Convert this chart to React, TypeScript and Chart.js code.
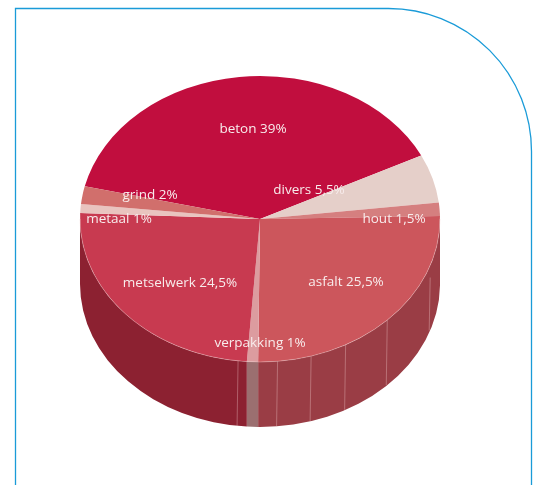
import { useEffect, useRef } from "react";
import { Chart, registerables } from "chart.js";

Chart.register(...registerables);

// Waste streams, clockwise from the top-left edge of the largest slice
const categories = ["beton", "divers", "hout", "asfalt", "verpakking", "metselwerk", "metaal", "grind"];
const shares = [39, 5.5, 1.5, 25.5, 1, 24.5, 1, 2];
const shareLabels = ["39%", "5,5%", "1,5%", "25,5%", "1%", "24,5%", "1%", "2%"];
const topColors = ["#c10e3e", "#e5cfc9", "#d57f7f", "#cc565c", "#dc9c9f", "#c83a50", "#e9c4bf", "#d16f6c"];
const sideColors = ["#8c2030", "#b9a09c", "#a85f60", "#9a3d45", "#9b6f70", "#8c2131", "#b0908c", "#a05050"];

// Where each caption sits, relative to the centre of the disc
const labelOffsets = [
  [-7, -90], [49, -29], [134, 0], [86, 63], [0, 124], [-80, 64], [-141, 0], [-110, -24],
];

// Facet seams on the rim: degrees clockwise from the right-hand side, and how far below the top edge each begins
const seamAngles = [19, 45, 61.6, 73.5, 84.4, 97];
const seamInsets = [12, 0, 0, 0, 0, 0];

const SQUASH = 143 / 180;
const DEPTH = 65;
const FIRST_SLICE_ROTATION = -76.8;

const disc3d = {
  id: "disc3d",
  beforeDraw(chart: any) {
    // Rounded blue frame, open at the bottom
    const { ctx, height } = chart;
    ctx.save();
    ctx.strokeStyle = "#1a9bd8";
    ctx.lineWidth = 1.3;
    ctx.beginPath();
    ctx.moveTo(15.5, height);
    ctx.lineTo(15.5, 8.5);
    ctx.lineTo(388, 8.5);
    ctx.arcTo(531.5, 8.5, 531.5, 152, 143);
    ctx.lineTo(531.5, height);
    ctx.stroke();
    ctx.restore();
  },
  beforeDatasetsDraw(chart: any) {
    const { ctx } = chart;
    const arcs = chart.getDatasetMeta(0).data;
    const cx = arcs[0].x;
    const cy = arcs[0].y;
    const r = arcs[0].outerRadius;
    ctx.save();
    arcs.forEach((arc: any, i: number) => {
      const a0 = Math.max(arc.startAngle, 0);
      const a1 = Math.min(arc.endAngle, Math.PI);
      if (a1 <= a0) return;
      ctx.beginPath();
      ctx.ellipse(cx, cy, r, r * SQUASH, 0, a0, a1);
      ctx.ellipse(cx, cy + DEPTH, r, r * SQUASH, 0, a1, a0, true);
      ctx.closePath();
      ctx.fillStyle = sideColors[i];
      ctx.fill();
    });
    ctx.strokeStyle = "rgba(240,205,205,0.45)";
    ctx.lineWidth = 0.8;
    seamAngles.forEach((deg, i) => {
      const a = (deg * Math.PI) / 180;
      const x = cx + r * Math.cos(a);
      const y = cy + r * SQUASH * Math.sin(a);
      ctx.beginPath();
      ctx.moveTo(x, y + seamInsets[i]);
      ctx.lineTo(x - 1, y + DEPTH);
      ctx.stroke();
    });
    ctx.restore();
    // The slices themselves are laid flat by squashing the drawing context
    ctx.save();
    ctx.translate(cx, cy);
    ctx.scale(1, SQUASH);
    ctx.translate(-cx, -cy);
  },
  afterDatasetsDraw(chart: any) {
    const { ctx } = chart;
    ctx.restore();
    const arcs = chart.getDatasetMeta(0).data;
    const cx = arcs[0].x;
    const cy = arcs[0].y;
    const r = arcs[0].outerRadius;
    ctx.save();
    // Pale rim highlight along the front edge
    ctx.strokeStyle = "rgba(245,210,210,0.45)";
    ctx.lineWidth = 0.8;
    ctx.beginPath();
    ctx.ellipse(cx, cy, r, r * SQUASH, 0, 0, Math.PI);
    ctx.stroke();
    ctx.fillStyle = "#f8ecec";
    ctx.font = '13.5px "Open Sans"';
    ctx.textAlign = "center";
    ctx.textBaseline = "middle";
    categories.forEach((name, i) => {
      const [dx, dy] = labelOffsets[i];
      ctx.fillText(`${name} ${shareLabels[i]}`, cx + dx, cy + dy);
    });
    ctx.restore();
  },
};

export default function App() {
  const canvasRef = useRef<HTMLCanvasElement>(null);

  useEffect(() => {
    const chart = new Chart(canvasRef.current!, {
      type: "pie",
      data: {
        labels: categories,
        datasets: [{ data: shares, backgroundColor: topColors, borderWidth: 0 }],
      },
      options: {
        animation: false,
        responsive: false,
        rotation: FIRST_SLICE_ROTATION,
        layout: { padding: { left: 80, right: 99, top: 39, bottom: 86 } },
        plugins: { legend: { display: false }, tooltip: { enabled: false }, title: { display: false } },
      },
      plugins: [disc3d],
    } as any);
    return () => chart.destroy();
  }, []);

  return (
    <canvas
      ref={canvasRef}
      width={539}
      height={485}
      style={{ position: "absolute", left: 0, top: 0, display: "block", background: "#fff" }}
    />
  );
}
